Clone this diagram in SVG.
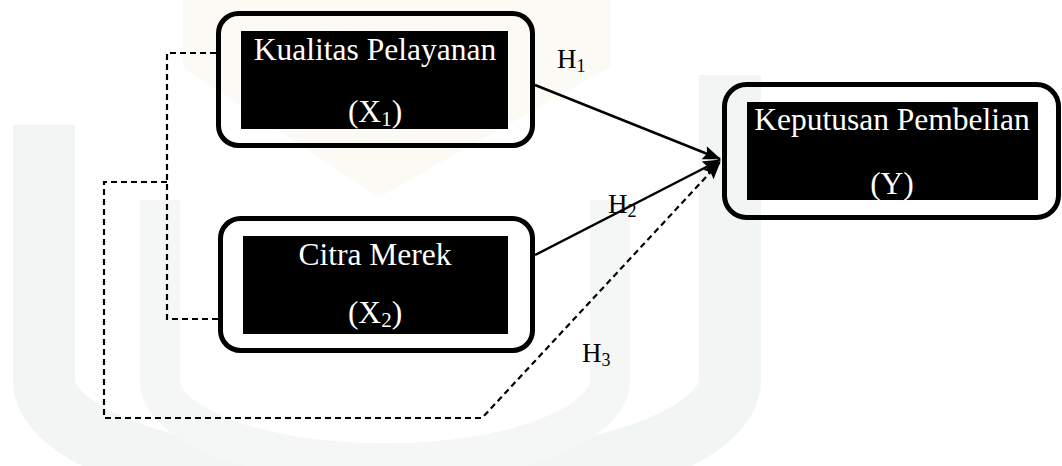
<svg xmlns="http://www.w3.org/2000/svg" width="1062" height="466" viewBox="0 0 1062 466">
  <style>
    .frame { fill: none; stroke: #000; stroke-width: 5; }
    .panel { fill: #000; }
    .label { font-family: "Liberation Serif", "Times New Roman", serif; font-size: 31.5px; fill: #fff; text-anchor: middle; }
    .hyp { font-family: "Liberation Serif", "Times New Roman", serif; font-size: 27px; fill: #000; }
    .solid { fill: none; stroke: #000; stroke-width: 2.5; }
    .dashed { fill: none; stroke: #000; stroke-width: 2.2; stroke-dasharray: 6 4; }
  </style>
  <defs>
    <marker id="arrow" markerUnits="userSpaceOnUse" markerWidth="18" markerHeight="14" refX="17" refY="7" orient="auto">
      <path d="M0,0 L18,7 L0,14 L3,7 z" fill="#000"/>
    </marker>
  </defs>

  <rect width="1062" height="466" fill="#fff"/>

  <!-- faint background emblem -->
  <g id="emblem">
    <path d="M183,0 H610 V67 L379,197 L183,67 z" fill="#fcfaf5"/>
    <path d="M44,125 V380 A343,110 0 0 0 730,380 V75" fill="none" stroke="#f1f5f4" stroke-width="62"/>
    <path d="M160,200 V380 A216,80 0 0 0 610,380 V200" fill="none" stroke="#f4f7f6" stroke-width="40"/>
  </g>

  <!-- connectors -->
  <g id="connectors">
    <line class="solid" x1="535" y1="85" x2="720" y2="159" marker-end="url(#arrow)"/>
    <line class="solid" x1="535" y1="255" x2="720" y2="160" marker-end="url(#arrow)"/>
    <path class="dashed" d="M216,53 H167 V319 H218"/>
    <path class="dashed" d="M167,182 H104 V418 H482 L720,162" marker-end="url(#arrow)"/>
  </g>

  <!-- hypothesis labels -->
  <g id="labels">
    <text class="hyp" x="557" y="68">H<tspan font-size="18" dy="4">1</tspan></text>
    <text class="hyp" x="608" y="213">H<tspan font-size="18" dy="4">2</tspan></text>
    <text class="hyp" x="582" y="362">H<tspan font-size="18" dy="4">3</tspan></text>
  </g>

  <g id="node-x1">
    <rect class="frame" x="218.5" y="13.5" width="314" height="132" rx="20"/>
    <rect class="panel" x="241" y="31" width="267" height="98"/>
    <text class="label" x="375" y="60">Kualitas Pelayanan</text>
    <text class="label" x="375" y="122">(X<tspan font-size="21" dy="4">1</tspan><tspan dy="-4">)</tspan></text>
  </g>

  <g id="node-x2">
    <rect class="frame" x="220.5" y="218.5" width="312" height="132" rx="20"/>
    <rect class="panel" x="243" y="236" width="265" height="98"/>
    <text class="label" x="375" y="265">Citra Merek</text>
    <text class="label" x="375" y="323">(X<tspan font-size="21" dy="4">2</tspan><tspan dy="-4">)</tspan></text>
  </g>

  <g id="node-y">
    <rect class="frame" x="724.5" y="84.5" width="334" height="133" rx="22"/>
    <rect class="panel" x="747" y="102" width="291" height="98"/>
    <text class="label" x="892" y="130">Keputusan Pembelian</text>
    <text class="label" x="892" y="194">(Y)</text>
  </g>
</svg>
